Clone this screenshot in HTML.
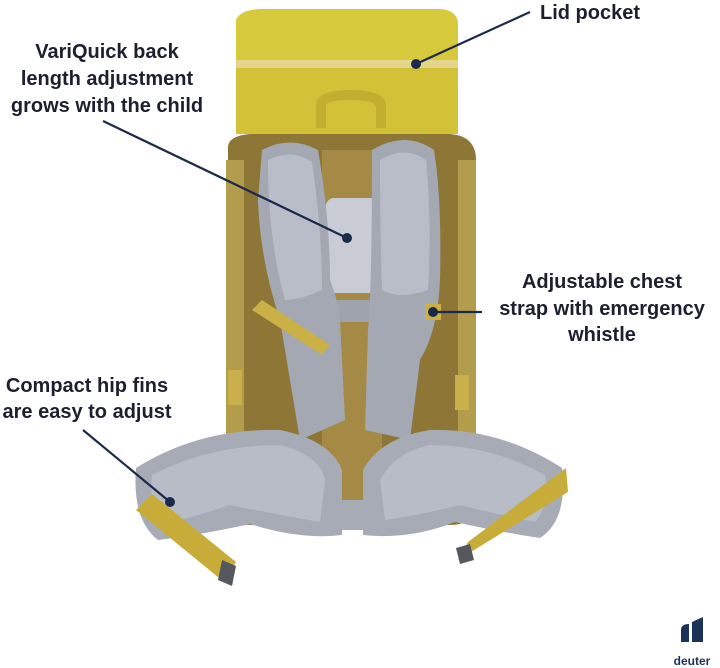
<!DOCTYPE html>
<html><head><meta charset="utf-8"><style>
html,body{margin:0;padding:0;background:#fff;}
svg{display:block;}
text{font-family:"Liberation Sans",sans-serif;font-weight:bold;fill:#1c1f2e;font-size:20px;}
</style></head><body>
<svg width="720" height="668" viewBox="0 0 720 668" xmlns="http://www.w3.org/2000/svg">
<path d="M236,20 Q240,10 260,9 L440,9 Q456,10 458,22 L458,134 L236,134 Z" fill="#d7c93c"/>
<path d="M236,60 L458,60 L458,68 L236,68 Z" fill="#e3d48e"/>
<path d="M236,68 L458,68 L458,134 L236,134 Z" fill="#d3c238"/>
<path d="M316,128 L316,104 Q318,90 350,90 Q384,90 386,104 L386,128 L376,128 L376,106 Q374,100 350,100 Q326,100 326,106 L326,128Z" fill="#c4ae30"/>
<path d="M228,150 Q226,136 250,134 L450,134 Q476,136 476,160 L476,500 Q476,525 450,525 L250,525 Q226,525 226,500 Z" fill="#8d7636"/>
<rect x="226" y="160" width="18" height="340" fill="#b39d4c"/>
<rect x="458" y="160" width="18" height="340" fill="#b39d4c"/>
<rect x="322" y="150" width="60" height="380" fill="#a48a45"/>
<rect x="326" y="198" width="52" height="95" rx="8" fill="#c9ccd4"/>
<rect x="322" y="300" width="60" height="22" fill="#9fa3ad"/>
<path d="M262,150 Q290,135 318,150 Q330,220 330,280 Q338,300 340,320 L345,420 L300,440 Q290,380 280,320 Q260,260 258,200 Z" fill="#a3a8b3"/>
<path d="M268,160 Q292,148 312,162 Q322,230 322,290 Q300,300 285,300 Q268,240 268,160Z" fill="#b9bdc7"/>
<path d="M372,150 Q405,130 434,150 Q442,200 440,280 Q438,330 420,360 L410,440 L365,430 L368,330 Q372,290 372,150Z" fill="#a3a8b3"/>
<path d="M380,160 Q405,145 426,160 Q432,220 428,290 Q400,300 382,290 Q380,230 380,160Z" fill="#b9bdc7"/>
<rect x="280" y="500" width="140" height="30" fill="#a7abb5"/>
<path d="M136,468 Q200,428 280,430 Q330,440 342,470 L342,535 Q300,540 250,524 Q200,535 158,540 Q132,520 136,468Z" fill="#a7abb5"/>
<path d="M152,475 Q210,445 280,445 Q320,455 325,480 L320,522 Q280,515 230,505 Q190,518 165,524 Q148,505 152,475Z" fill="#b8bcc6"/>
<path d="M363,470 Q380,438 430,430 Q500,428 562,468 Q568,520 540,538 Q500,532 455,522 Q410,540 363,535Z" fill="#a7abb5"/>
<path d="M380,480 Q395,452 430,445 Q490,445 545,475 Q550,505 535,522 Q500,515 460,505 Q420,515 385,520Z" fill="#b8bcc6"/>
<path d="M136,510 L152,494 L236,562 L224,582 Z" fill="#c8ac3a"/>
<path d="M458,560 L468,542 L566,468 L568,492 Z" fill="#c8ac3a"/>
<path d="M222,560 l14,6 l-4,20 l-14,-6Z" fill="#55585f"/>
<path d="M456,548 l14,-4 l4,16 l-14,4Z" fill="#55585f"/>
<rect x="228" y="370" width="14" height="35" fill="#c9b04a"/>
<rect x="455" y="375" width="14" height="35" fill="#c9b04a"/>
<path d="M252,310 L262,300 L330,345 L322,355Z" fill="#cbb046"/>
<rect x="425" y="304" width="16" height="16" fill="#cbb046"/>
<g stroke="#1b2a4a" stroke-width="2.2" fill="none">
<line x1="530" y1="12" x2="416" y2="64"/>
<line x1="103" y1="121" x2="347" y2="238"/>
<line x1="482" y1="312" x2="433" y2="312"/>
<line x1="83" y1="430" x2="170" y2="502"/>
</g>
<g fill="#1b2a4a">
<circle cx="416" cy="64" r="5"/>
<circle cx="347" cy="238" r="5"/>
<circle cx="433" cy="312" r="5"/>
<circle cx="170" cy="502" r="5"/>
</g>
<text x="540" y="19">Lid pocket</text>
<text x="107" y="58" text-anchor="middle">VariQuick back</text>
<text x="107" y="85" text-anchor="middle">length adjustment</text>
<text x="107" y="112" text-anchor="middle">grows with the child</text>
<text x="602" y="288" text-anchor="middle">Adjustable chest</text>
<text x="602" y="315" text-anchor="middle">strap with emergency</text>
<text x="602" y="341" text-anchor="middle">whistle</text>
<text x="87" y="392" text-anchor="middle">Compact hip fins</text>
<text x="87" y="418" text-anchor="middle">are easy to adjust</text>
<path d="M681,630 Q681,624 689,624 L689,642 L681,642Z M692,622 L703,617 L703,642 L692,642Z" fill="#1b3358"/>
<text x="692" y="665" text-anchor="middle" style="font-size:12px;fill:#1b3358">deuter</text>
</svg>
</body></html>
